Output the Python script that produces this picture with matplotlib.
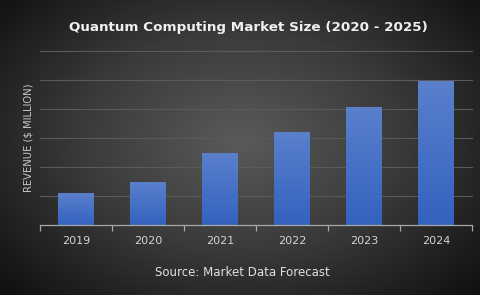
import matplotlib.pyplot as plt
import numpy as np
from matplotlib.colors import LinearSegmentedColormap

years = ["2019", "2020", "2021", "2022", "2023", "2024"]
revenue = [110, 148, 248, 320, 407, 497]  # $ million
grid_levels = [100, 200, 300, 400, 500, 600]

W, H = 481, 295
fig = plt.figure(figsize=(W / 100, H / 100), dpi=100)

# radial dark-gray background
bg = fig.add_axes([0, 0, 1, 1], zorder=0)
yy, xx = np.mgrid[0:H, 0:W]
r = np.sqrt(((xx - 240) / 320) ** 2 + ((yy - 140) / 220) ** 2)
bg_cmap = LinearSegmentedColormap.from_list("bg", ["#5a5a5a", "#3a3a3a", "#111111"])
bg.imshow(np.clip(r, 0, 1), cmap=bg_cmap, vmin=0, vmax=1, aspect="auto",
          extent=[0, W, H, 0])
bg.axis("off")

ax = fig.add_axes([40 / W, (H - 225) / H, 432 / W, 174 / H], zorder=1)
ax.patch.set_alpha(0)

x = np.arange(len(years))
bars = ax.bar(x, revenue, width=0.5, color="#4a72c8", zorder=3)

# vertical blue gradient inside each bar
bar_cmap = LinearSegmentedColormap.from_list("bar", ["#3462bf", "#5a80cc"])
grad = np.linspace(0, 1, 100).reshape(-1, 1)
for b in bars:
    x0, w, h = b.get_x(), b.get_width(), b.get_height()
    im = ax.imshow(grad, cmap=bar_cmap, aspect="auto", origin="lower",
                   extent=[x0, x0 + w, 0, h], zorder=4)
    im.set_clip_path(b)

ax.set_xlim(-0.5, len(years) - 0.5)
ax.set_ylim(0, 600)
for g in grid_levels:
    ax.axhline(g, color="#5a5a5a", lw=0.8, zorder=1, clip_on=False)

for s in ["top", "right", "left"]:
    ax.spines[s].set_visible(False)
ax.spines["bottom"].set_color("#a8a8a8")
ax.spines["bottom"].set_linewidth(0.9)
ax.spines["bottom"].set_zorder(5)

ax.set_yticks([])
ax.set_xticks(x)
ax.set_xticklabels(years)
ax.set_xticks(np.arange(-0.5, len(years)), minor=True)
ax.tick_params(axis="x", which="major", length=0, pad=8, labelsize=8,
               labelcolor="#d4d4d4")
ax.tick_params(axis="x", which="minor", length=4, width=0.9, color="#a8a8a8",
               direction="out")

ax.set_ylabel("REVENUE ($ MILLION)", fontsize=7.2, color="#c8c8c8", labelpad=5)

fig.text(0.517, (H - 28) / H, "Quantum Computing Market Size (2020 - 2025)",
         ha="center", va="center", fontsize=9.7, fontweight="bold", color="#f0f0f0")
fig.text(0.503, (H - 272) / H, "Source: Market Data Forecast", ha="center",
         va="center", fontsize=8.5, color="#e0e0e0")

fig.savefig("out.png", dpi=100)
